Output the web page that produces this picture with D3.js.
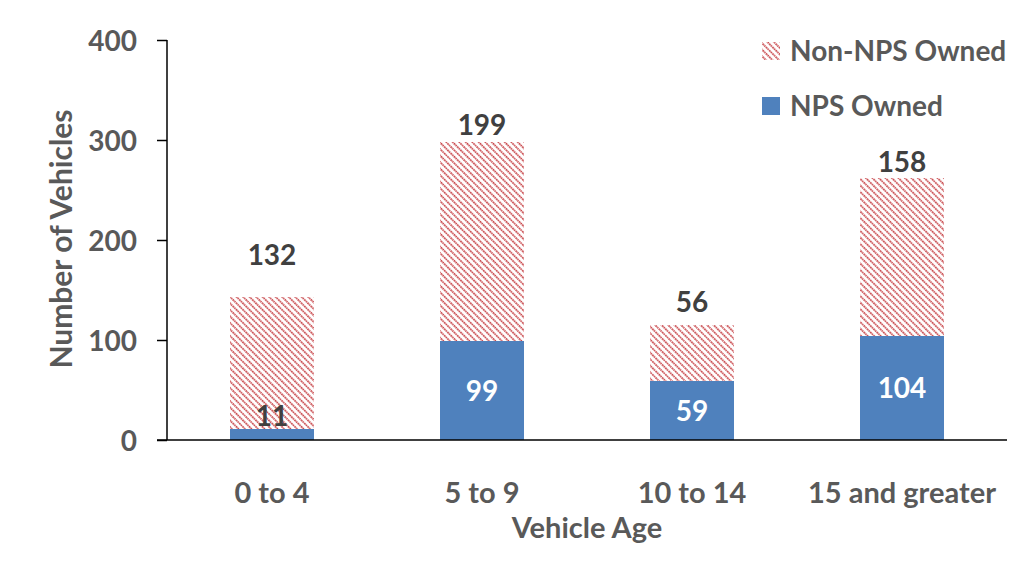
<!DOCTYPE html>
<html>
<head>
<meta charset="utf-8">
<script src="https://cdn.jsdelivr.net/npm/d3@7"></script>
<style>
  body { margin: 0; background: #fff; }
  svg text { font-family: Lato, "Open Sans", sans-serif; font-weight: 700; }
</style>
</head>
<body>
<div id="chart"></div>
<script>
// values
var categories = ["0 to 4", "5 to 9", "10 to 14", "15 and greater"];
var npsOwned = [11, 99, 59, 104];
var nonNpsOwned = [132, 199, 56, 158];
var yTicks = [0, 100, 200, 300, 400];
var seriesNames = ["Non-NPS Owned", "NPS Owned"];

// the original labels were nudged by hand, so keep the lift per bar
var totalLabelLift = [42, 17, 23, 16];

var width = 1026, height = 577;
var margin = { top: 40, left: 167, right: 19, bottom: 137 };
var innerW = width - margin.left - margin.right;
var innerH = height - margin.top - margin.bottom;

var blue = "#4f81bd";
var red = "#c8464a";
var tickGrey = "#595959";
var labelGrey = "#404040";

var svg = d3.select("#chart").append("svg")
    .attr("width", width)
    .attr("height", height);

// hatch for the non-NPS series, lines running top-left to bottom-right
var defs = svg.append("defs");
var hatch = defs.append("pattern")
    .attr("id", "hatch")
    .attr("patternUnits", "userSpaceOnUse")
    .attr("width", 4.6)
    .attr("height", 4.6)
    .attr("patternTransform", "rotate(-45)");
hatch.append("line")
    .attr("x1", 1).attr("y1", 0)
    .attr("x2", 1).attr("y2", 4.6)
    .attr("stroke", red)
    .attr("stroke-width", 1.8)
    .attr("stroke-dasharray", "1.6,0.7");

var g = svg.append("g")
    .attr("transform", "translate(" + margin.left + "," + margin.top + ")");

var x = d3.scaleBand()
    .domain(categories)
    .range([0, innerW])
    .paddingInner(0.6)
    .paddingOuter(0.3);

var y = d3.scaleLinear()
    .domain([0, 400])
    .range([innerH, 0]);

var rows = categories.map(function (c, i) {
    return { cat: c, nps: npsOwned[i], non: nonNpsOwned[i], lift: totalLabelLift[i] };
});

// bars
g.selectAll(".nps").data(rows).enter().append("rect")
    .attr("class", "nps")
    .attr("x", function (d) { return x(d.cat); })
    .attr("width", x.bandwidth())
    .attr("y", function (d) { return y(d.nps); })
    .attr("height", function (d) { return y(0) - y(d.nps); })
    .attr("fill", blue);

g.selectAll(".non").data(rows).enter().append("rect")
    .attr("class", "non")
    .attr("x", function (d) { return x(d.cat); })
    .attr("width", x.bandwidth())
    .attr("y", function (d) { return y(d.nps + d.non); })
    .attr("height", function (d) { return y(d.nps) - y(d.nps + d.non); })
    .attr("fill", "url(#hatch)");

// axes
var yAxis = g.append("g")
    .call(d3.axisLeft(y).tickValues(yTicks).tickSize(10).tickPadding(20));
yAxis.select(".domain").attr("stroke", "#000").attr("stroke-width", 1.5)
    .attr("d", "M0," + y(400) + "V" + y(0));
yAxis.selectAll(".tick line").attr("stroke", "#000").attr("stroke-width", 1.5);
yAxis.selectAll(".tick text")
    .attr("fill", tickGrey)
    .style("font-size", "28px")
    .attr("dy", "0.36em");

var xAxis = g.append("g")
    .attr("transform", "translate(0," + innerH + ")")
    .call(d3.axisBottom(x).tickSize(0).tickPadding(42));
xAxis.select(".domain").attr("stroke", "#000").attr("stroke-width", 1.5)
    .attr("d", "M-10,0H" + innerW);
xAxis.selectAll(".tick text")
    .attr("fill", tickGrey)
    .style("font-size", "29px");

// value labels
g.selectAll(".npsLabel").data(rows).enter().append("text")
    .attr("class", "npsLabel")
    .attr("x", function (d) { return x(d.cat) + x.bandwidth() / 2; })
    .attr("y", function (d) {
        var mid = (y(d.nps) + y(0)) / 2;
        return d.nps < 30 ? y(d.nps) - 13 : mid;
    })
    .attr("dy", "0.36em")
    .attr("text-anchor", "middle")
    .attr("fill", function (d) { return d.nps < 30 ? labelGrey : "#fff"; })
    .style("font-size", "28px")
    .text(function (d) { return d.nps; });

g.selectAll(".nonLabel").data(rows).enter().append("text")
    .attr("class", "nonLabel")
    .attr("x", function (d) { return x(d.cat) + x.bandwidth() / 2; })
    .attr("y", function (d) { return y(d.nps + d.non) - d.lift; })
    .attr("dy", "0.36em")
    .attr("text-anchor", "middle")
    .attr("fill", labelGrey)
    .style("font-size", "28px")
    .text(function (d) { return d.non; });

// axis titles
svg.append("text")
    .attr("transform", "translate(72," + (margin.top + innerH / 2 - 1) + ") rotate(-90)")
    .attr("text-anchor", "middle")
    .attr("fill", tickGrey)
    .style("font-size", "30px")
    .text("Number of Vehicles");

svg.append("text")
    .attr("x", 587)
    .attr("y", 538)
    .attr("text-anchor", "middle")
    .attr("fill", tickGrey)
    .style("font-size", "29px")
    .text("Vehicle Age");

// legend
var legend = svg.append("g").attr("transform", "translate(762,0)");
var legendFills = ["url(#hatch)", blue];
var legendRows = legend.selectAll(".lg").data(seriesNames).enter().append("g")
    .attr("class", "lg")
    .attr("transform", function (d, i) { return "translate(0," + (51 + i * 55) + ")"; });
legendRows.append("rect")
    .attr("x", 0).attr("y", -9)
    .attr("width", 18).attr("height", 18)
    .attr("fill", function (d, i) { return legendFills[i]; });
legendRows.append("text")
    .attr("x", 28)
    .attr("dy", "0.36em")
    .attr("fill", tickGrey)
    .style("font-size", "28px")
    .text(function (d) { return d; });
</script>
</body>
</html>
